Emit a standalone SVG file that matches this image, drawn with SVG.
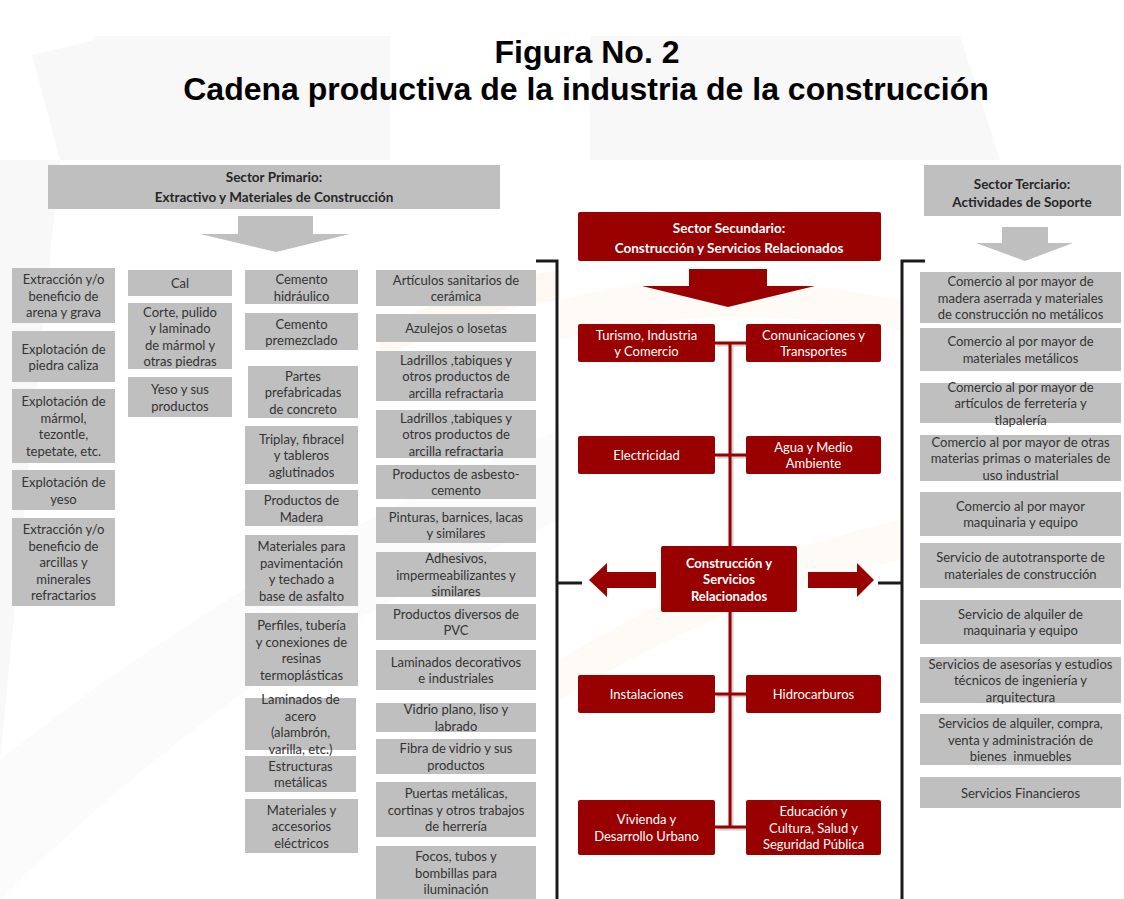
<svg xmlns="http://www.w3.org/2000/svg" width="1124" height="899" viewBox="0 0 1124 899">
<style>
.g{fill:#bfbfbf}
.ga{fill:#bfbfbf}
.r{fill:#990000}
.t{font-family:Lato,"Open Sans","Liberation Sans",sans-serif;font-size:13px;fill:#333;text-anchor:middle}
.b{font-weight:bold}
.h{font-size:13.5px;fill:#262626}
.t.w{fill:#fff}
.conn{stroke:#990000;stroke-width:3;fill:none}
.sh{stroke:#9a9a9a;stroke-width:3;fill:none;opacity:.45}
.brk{stroke:#1a1a1a;stroke-width:3;fill:none}
.wm{fill:#f8f8f8}
.wo{fill:#fef6f0}
.title{font-family:"Liberation Sans",Arial,sans-serif;font-weight:bold;font-size:32px;fill:#000;text-anchor:middle}
</style>
<rect x="0" y="0" width="1124" height="899" fill="#fff"/>
<g id="watermark">
<path class="wm" d="M32,55 L95,40 L95,160 L60,160 Z"/>
<path class="wm" d="M95,36 L390,36 L390,160 L95,160 Z"/>
<path class="wm" d="M590,36 L960,36 L1000,160 L590,160 Z"/>
<path class="wm" d="M0,160 L60,160 Q30,450 0,760 Z"/>
<path class="wm" d="M0,760 Q250,560 560,430 L560,520 Q260,640 0,900 Z" opacity=".6"/>
<path class="wo" d="M380,330 Q470,280 560,270 L560,300 Q470,310 380,360 Z" opacity=".8"/>
<path class="wo" d="M560,300 Q700,260 900,300 L900,330 Q700,300 560,340 Z" opacity=".6"/>
<path class="wo" d="M560,660 Q720,560 900,520 L900,560 Q720,600 560,700 Z" opacity=".6"/>
</g>
<g id="title">
<text class="title" x="587" y="63">Figura No. 2</text>
<text class="title" x="586" y="100">Cadena productiva de la industria de la construcción</text>
</g>
<g id="connectors">
<path class="brk" d="M536,261 H557 V899"/>
<path class="brk" d="M557,583 H582"/>
<path class="brk" d="M925,261 H902 V899"/>
<path class="brk" d="M878,583 H902"/>
<path class="sh" d="M732,345 V829 M717,345 H748 M717,457 H748 M717,696 H748 M717,829 H748"/>
<path class="conn" d="M730,343 V827 M715,343 H746 M715,455 H746 M715,694 H746 M715,827 H746"/>
<polygon class="r" points="656,572 607,572 607,563 589,580 607,597 607,588 656,588"/>
<polygon class="r" points="808,572 857,572 857,563 874,580 857,597 857,588 808,588"/>
</g>
<g id="primario">
<rect class="g" x="48" y="165" width="452" height="44"/>
<text class="t b h"><tspan x="274" y="182">Sector Primario:</tspan><tspan x="274" y="202">Extractivo y Materiales de Construcción</tspan></text>
<polygon class="ga" points="238,216 313,216 313,234 350,234 276,252 200,234 238,234"/>
</g>
<g id="secundario">
<rect class="r" x="578" y="212" width="303" height="49" rx="2"/>
<text class="t b h w"><tspan x="729" y="233">Sector Secundario:</tspan><tspan x="729" y="253">Construcción y Servicios Relacionados</tspan></text>
<polygon class="r" points="689,269 767,269 767,286 815,286 728,307 642,286 689,286"/>
</g>
<g id="terciario">
<rect class="g" x="924" y="165" width="197" height="51"/>
<text class="t b h"><tspan x="1022" y="189">Sector Terciario:</tspan><tspan x="1022" y="207">Actividades de Soporte</tspan></text>
<polygon class="ga" points="1002,227 1048,227 1048,243 1073,243 1025,261 976,243 1002,243"/>
</g>
<!-- Column 1 -->
<g id="c1-1"><rect class="g" x="12" y="268" width="103" height="55"/><text class="t"><tspan x="63.5" y="284">Extracción y/o</tspan><tspan x="63.5" y="300.5">beneficio de</tspan><tspan x="63.5" y="317">arena y grava</tspan></text></g>
<g id="c1-2"><rect class="g" x="12" y="331" width="103" height="51"/><text class="t"><tspan x="63.5" y="353.5">Explotación de</tspan><tspan x="63.5" y="370">piedra caliza</tspan></text></g>
<g id="c1-3"><rect class="g" x="12" y="389" width="103" height="74"/><text class="t"><tspan x="63.5" y="406">Explotación de</tspan><tspan x="63.5" y="422.5">mármol,</tspan><tspan x="63.5" y="439">tezontle,</tspan><tspan x="63.5" y="455.5">tepetate, etc.</tspan></text></g>
<g id="c1-4"><rect class="g" x="12" y="470" width="103" height="40"/><text class="t"><tspan x="63.5" y="487">Explotación de</tspan><tspan x="63.5" y="503.5">yeso</tspan></text></g>
<g id="c1-5"><rect class="g" x="12" y="518" width="103" height="88"/><text class="t"><tspan x="63.5" y="534">Extracción y/o</tspan><tspan x="63.5" y="550.5">beneficio de</tspan><tspan x="63.5" y="567">arcillas y</tspan><tspan x="63.5" y="583.5">minerales</tspan><tspan x="63.5" y="600">refractarios</tspan></text></g>
<!-- Column 2 -->
<g id="c2-1"><rect class="g" x="128" y="270" width="104" height="26"/><text class="t"><tspan x="180" y="288">Cal</tspan></text></g>
<g id="c2-2"><rect class="g" x="128" y="303" width="104" height="66"/><text class="t"><tspan x="180" y="316.5">Corte, pulido</tspan><tspan x="180" y="333">y laminado</tspan><tspan x="180" y="349.5">de mármol y</tspan><tspan x="180" y="366">otras piedras</tspan></text></g>
<g id="c2-3"><rect class="g" x="128" y="377" width="104" height="40"/><text class="t"><tspan x="180" y="394">Yeso y sus</tspan><tspan x="180" y="410.5">productos</tspan></text></g>
<!-- Column 3 -->
<g id="c3-1"><rect class="g" x="245" y="270" width="113" height="34"/><text class="t"><tspan x="301.5" y="284">Cemento</tspan><tspan x="301.5" y="300.5">hidráulico</tspan></text></g>
<g id="c3-2"><rect class="g" x="245" y="313" width="113" height="37"/><text class="t"><tspan x="301.5" y="328.5">Cemento</tspan><tspan x="301.5" y="345">premezclado</tspan></text></g>
<g id="c3-3"><rect class="g" x="248" y="366" width="110" height="52"/><text class="t"><tspan x="303" y="380.5">Partes</tspan><tspan x="303" y="397">prefabricadas</tspan><tspan x="303" y="413.5">de concreto</tspan></text></g>
<g id="c3-4"><rect class="g" x="245" y="426" width="113" height="58"/><text class="t"><tspan x="301.5" y="443.5">Triplay, fibracel</tspan><tspan x="301.5" y="460">y tableros</tspan><tspan x="301.5" y="476.5">aglutinados</tspan></text></g>
<g id="c3-5"><rect class="g" x="245" y="490" width="113" height="36"/><text class="t"><tspan x="301.5" y="505">Productos de</tspan><tspan x="301.5" y="521.5">Madera</tspan></text></g>
<g id="c3-6"><rect class="g" x="245" y="535" width="113" height="71"/><text class="t"><tspan x="301.5" y="551">Materiales para</tspan><tspan x="301.5" y="567.5">pavimentación</tspan><tspan x="301.5" y="584">y techado a</tspan><tspan x="301.5" y="600.5">base de asfalto</tspan></text></g>
<g id="c3-7"><rect class="g" x="245" y="613" width="113" height="73"/><text class="t"><tspan x="301.5" y="630">Perfiles, tubería</tspan><tspan x="301.5" y="646.5">y conexiones de</tspan><tspan x="301.5" y="663">resinas</tspan><tspan x="301.5" y="679.5">termoplásticas</tspan></text></g>
<g id="c3-8"><rect class="g" x="245" y="698" width="111" height="52"/><text class="t"><tspan x="300.5" y="704">Laminados de</tspan><tspan x="300.5" y="720.5">acero</tspan><tspan x="300.5" y="737">(alambrón,</tspan><tspan x="300.5" y="753.5">varilla, etc.)</tspan></text></g>
<g id="c3-9"><rect class="g" x="245" y="756" width="111" height="36"/><text class="t"><tspan x="300.5" y="770.5">Estructuras</tspan><tspan x="300.5" y="787">metálicas</tspan></text></g>
<g id="c3-10"><rect class="g" x="245" y="799" width="113" height="54"/><text class="t"><tspan x="301.5" y="814.5">Materiales y</tspan><tspan x="301.5" y="831">accesorios</tspan><tspan x="301.5" y="847.5">eléctricos</tspan></text></g>
<!-- Column 4 -->
<g id="c4-1"><rect class="g" x="376" y="270" width="160" height="36"/><text class="t"><tspan x="456" y="284.75">Artículos sanitarios de</tspan><tspan x="456" y="301.25">cerámica</tspan></text></g>
<g id="c4-2"><rect class="g" x="376" y="314" width="160" height="28"/><text class="t"><tspan x="456" y="333">Azulejos o losetas</tspan></text></g>
<g id="c4-3"><rect class="g" x="376" y="351" width="160" height="50"/><text class="t"><tspan x="456" y="364.5">Ladrillos ,tabiques y</tspan><tspan x="456" y="381">otros productos de</tspan><tspan x="456" y="397.5">arcilla refractaria</tspan></text></g>
<g id="c4-4"><rect class="g" x="376" y="410" width="160" height="48"/><text class="t"><tspan x="456" y="422.5">Ladrillos ,tabiques y</tspan><tspan x="456" y="439">otros productos de</tspan><tspan x="456" y="455.5">arcilla refractaria</tspan></text></g>
<g id="c4-5"><rect class="g" x="376" y="465" width="160" height="34"/><text class="t"><tspan x="456" y="478.75">Productos de asbesto-</tspan><tspan x="456" y="495.25">cemento</tspan></text></g>
<g id="c4-6"><rect class="g" x="376" y="507" width="160" height="36"/><text class="t"><tspan x="456" y="521.75">Pinturas, barnices, lacas</tspan><tspan x="456" y="538.25">y similares</tspan></text></g>
<g id="c4-7"><rect class="g" x="376" y="552" width="160" height="45"/><text class="t"><tspan x="456" y="563">Adhesivos,</tspan><tspan x="456" y="579.5">impermeabilizantes y</tspan><tspan x="456" y="596">similares</tspan></text></g>
<g id="c4-8"><rect class="g" x="376" y="604" width="160" height="36"/><text class="t"><tspan x="456" y="618.75">Productos diversos de</tspan><tspan x="456" y="635.25">PVC</tspan></text></g>
<g id="c4-9"><rect class="g" x="376" y="650" width="160" height="40"/><text class="t"><tspan x="456" y="666.75">Laminados decorativos</tspan><tspan x="456" y="683.25">e industriales</tspan></text></g>
<g id="c4-10"><rect class="g" x="376" y="703" width="160" height="29"/><text class="t"><tspan x="456" y="714.25">Vidrio plano, liso y</tspan><tspan x="456" y="730.75">labrado</tspan></text></g>
<g id="c4-11"><rect class="g" x="376" y="739" width="160" height="35"/><text class="t"><tspan x="456" y="753.25">Fibra de vidrio y sus</tspan><tspan x="456" y="769.75">productos</tspan></text></g>
<g id="c4-12"><rect class="g" x="376" y="782" width="160" height="55"/><text class="t"><tspan x="456" y="798">Puertas metálicas,</tspan><tspan x="456" y="814.5">cortinas y otros trabajos</tspan><tspan x="456" y="831">de herrería</tspan></text></g>
<g id="c4-13"><rect class="g" x="376" y="846" width="160" height="53"/><text class="t"><tspan x="456" y="861">Focos, tubos y</tspan><tspan x="456" y="877.5">bombillas para</tspan><tspan x="456" y="894">iluminación</tspan></text></g>
<!-- Red nodes -->
<g id="turismo"><rect class="r" x="578" y="324" width="137" height="38" rx="2"/><text class="t w"><tspan x="646.5" y="339.75">Turismo, Industria</tspan><tspan x="646.5" y="356.25">y Comercio</tspan></text></g>
<g id="comunicaciones"><rect class="r" x="746" y="324" width="135" height="38" rx="2"/><text class="t w"><tspan x="813.5" y="339.75">Comunicaciones y</tspan><tspan x="813.5" y="356.25">Transportes</tspan></text></g>
<g id="electricidad"><rect class="r" x="578" y="436" width="137" height="38" rx="2"/><text class="t w"><tspan x="646.5" y="460">Electricidad</tspan></text></g>
<g id="agua"><rect class="r" x="746" y="436" width="135" height="38" rx="2"/><text class="t w"><tspan x="813.5" y="451.75">Agua y Medio</tspan><tspan x="813.5" y="468.25">Ambiente</tspan></text></g>
<g id="construccion"><rect class="r" x="661" y="546" width="136" height="66" rx="2"/><text class="t w b"><tspan x="729" y="567.5">Construcción y</tspan><tspan x="729" y="584">Servicios</tspan><tspan x="729" y="600.5">Relacionados</tspan></text></g>
<g id="instalaciones"><rect class="r" x="578" y="675" width="137" height="38" rx="2"/><text class="t w"><tspan x="646.5" y="699">Instalaciones</tspan></text></g>
<g id="hidrocarburos"><rect class="r" x="746" y="675" width="135" height="38" rx="2"/><text class="t w"><tspan x="813.5" y="699">Hidrocarburos</tspan></text></g>
<g id="vivienda"><rect class="r" x="578" y="800" width="137" height="55" rx="2"/><text class="t w"><tspan x="646.5" y="824.25">Vivienda y</tspan><tspan x="646.5" y="840.75">Desarrollo Urbano</tspan></text></g>
<g id="educacion"><rect class="r" x="746" y="800" width="135" height="55" rx="2"/><text class="t w"><tspan x="813.5" y="816">Educación y</tspan><tspan x="813.5" y="832.5">Cultura, Salud y</tspan><tspan x="813.5" y="849">Seguridad Pública</tspan></text></g>
<!-- Right column -->
<g id="t-1"><rect class="g" x="920" y="272" width="201" height="51"/><text class="t"><tspan x="1020.5" y="286">Comercio al por mayor de</tspan><tspan x="1020.5" y="302.5">madera aserrada y materiales</tspan><tspan x="1020.5" y="319">de construcción no metálicos</tspan></text></g>
<g id="t-2"><rect class="g" x="920" y="328" width="201" height="43"/><text class="t"><tspan x="1020.5" y="346.25">Comercio al por mayor de</tspan><tspan x="1020.5" y="362.75">materiales metálicos</tspan></text></g>
<g id="t-3"><rect class="g" x="920" y="383" width="201" height="40"/><text class="t"><tspan x="1020.5" y="391.5">Comercio al por mayor de</tspan><tspan x="1020.5" y="408">artículos de ferretería y</tspan><tspan x="1020.5" y="424.5">tlapalería</tspan></text></g>
<g id="t-4"><rect class="g" x="920" y="435" width="201" height="46"/><text class="t"><tspan x="1020.5" y="446.5">Comercio al por mayor de otras</tspan><tspan x="1020.5" y="463">materias primas o materiales de</tspan><tspan x="1020.5" y="479.5">uso industrial</tspan></text></g>
<g id="t-5"><rect class="g" x="920" y="492" width="201" height="44"/><text class="t"><tspan x="1020.5" y="510.75">Comercio al por mayor</tspan><tspan x="1020.5" y="527.25">maquinaria y equipo</tspan></text></g>
<g id="t-6"><rect class="g" x="920" y="543" width="201" height="45"/><text class="t"><tspan x="1020.5" y="562.25">Servicio de autotransporte de</tspan><tspan x="1020.5" y="578.75">materiales de construcción</tspan></text></g>
<g id="t-7"><rect class="g" x="920" y="600" width="201" height="44"/><text class="t"><tspan x="1020.5" y="618.75">Servicio de alquiler de</tspan><tspan x="1020.5" y="635.25">maquinaria y equipo</tspan></text></g>
<g id="t-8"><rect class="g" x="920" y="657" width="201" height="46"/><text class="t"><tspan x="1020.5" y="668.5">Servicios de asesorías y estudios</tspan><tspan x="1020.5" y="685">técnicos de ingeniería y</tspan><tspan x="1020.5" y="701.5">arquitectura</tspan></text></g>
<g id="t-9"><rect class="g" x="920" y="714" width="201" height="51"/><text class="t"><tspan x="1020.5" y="728">Servicios de alquiler, compra,</tspan><tspan x="1020.5" y="744.5">venta y administración de</tspan><tspan x="1020.5" y="761" xml:space="preserve">bienes  inmuebles</tspan></text></g>
<g id="t-10"><rect class="g" x="920" y="777" width="201" height="31"/><text class="t"><tspan x="1020.5" y="797.5">Servicios Financieros</tspan></text></g>
</svg>
